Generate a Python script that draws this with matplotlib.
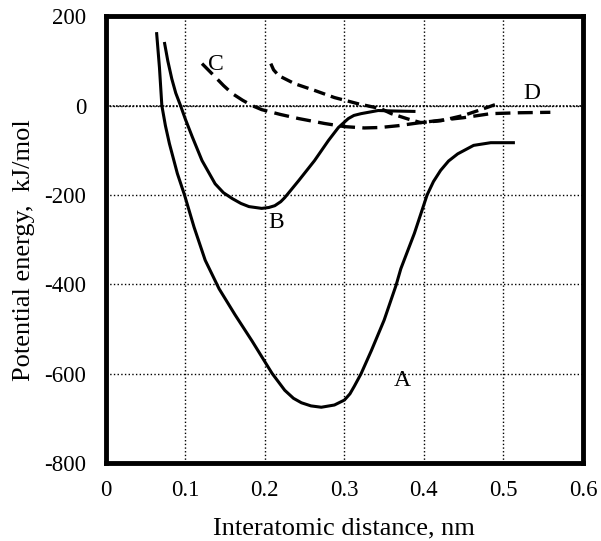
import matplotlib.pyplot as plt

# Curve data (x in nm, y in kJ/mol)
a_x = [0.064, 0.0675, 0.0705, 0.075, 0.08, 0.09, 0.099, 0.111, 0.125, 0.1425, 0.1625,
       0.184, 0.209, 0.225, 0.236, 0.246, 0.258, 0.271, 0.2875, 0.3, 0.307, 0.3125,
       0.321, 0.334, 0.35, 0.365, 0.371, 0.388, 0.404, 0.412, 0.421, 0.431, 0.4425,
       0.4625, 0.484, 0.5125]
a_y = [161, 85, 0, -45, -85, -152, -200, -272, -346, -410, -468,
       -527, -599, -637, -655, -665, -672, -675, -670, -659, -645, -628,
       -600, -548, -480, -402, -365, -286, -200, -170, -145, -124, -108,
       -89, -83, -83]

b_x = [0.074, 0.078, 0.083, 0.088, 0.094, 0.1, 0.109, 0.121, 0.1375, 0.148, 0.159, 0.17,
       0.18, 0.196, 0.205, 0.2125, 0.22, 0.225, 0.2425, 0.2625, 0.28, 0.2925, 0.305,
       0.312, 0.321, 0.3425, 0.36, 0.3875]
b_y = [139, 100, 60, 28, 0, -30, -71, -123, -175, -195, -208, -219,
       -226, -230, -228, -224, -215, -206, -168, -123, -78, -49, -29,
       -22, -18, -11, -12, -13]

c_x = [0.121, 0.136, 0.148, 0.159, 0.172, 0.184, 0.196, 0.22, 0.2425, 0.275, 0.3, 0.325,
       0.345, 0.3675, 0.396, 0.42, 0.45, 0.484, 0.52, 0.559]
c_y = [94, 67, 45, 27, 12, 0, -9, -20, -29, -40, -47, -50,
       -49, -45, -38, -33, -27, -18, -16, -15]

d_x = [0.2075, 0.211, 0.2175, 0.2375, 0.2625, 0.2875, 0.3175, 0.346, 0.359, 0.38, 0.396,
       0.421, 0.45, 0.475, 0.4925]
d_y = [94, 80, 67, 49, 34, 18, 4, -7, -18, -30, -38,
       -34, -22, -7, 4]

x_ticks = [0, 0.1, 0.2, 0.3, 0.4, 0.5, 0.6]
x_tick_labels = ['0', '0.1', '0.2', '0.3', '0.4', '0.5', '0.6']
y_ticks = [200, 0, -200, -400, -600, -800]

plt.rcParams['font.family'] = ['Liberation Serif', 'DejaVu Serif']
plt.rcParams['axes.unicode_minus'] = False

fig = plt.figure(figsize=(6.01, 5.41), dpi=100)
ax = fig.add_axes([0.176, 0.144, 0.794, 0.826])

ax.plot(a_x, a_y, color='black', lw=2.2, solid_joinstyle='round')
ax.plot(b_x, b_y, color='black', lw=2.2, solid_joinstyle='round')
ax.plot(c_x, c_y, color='black', lw=2.4, dashes=(4.5, 2.2))
ax.plot(d_x, d_y, color='black', lw=2.4, dashes=(3.5, 1.8))

ax.text(0.128, 92, 'C', fontsize=17, ha='left', va='center')
ax.text(0.204, -262, 'B', fontsize=17, ha='left', va='center')
ax.text(0.362, -615, 'A', fontsize=17, ha='left', va='center')
ax.text(0.525, 28, 'D', fontsize=17, ha='left', va='center')

ax.set_xlim(0, 0.6)
ax.set_ylim(-800, 200)
ax.set_xticks(x_ticks)
ax.set_xticklabels(x_tick_labels)
ax.set_yticks(y_ticks)
ax.tick_params(length=0, labelsize=16.5)
ax.tick_params(axis='x', pad=12)
ax.tick_params(axis='y', pad=14)
ax.grid(True, color='black', linestyle=':', lw=1.0)
ax.axhline(0, color='black', lw=1.2, ls=(0, (1, 1)))

for s in ax.spines.values():
    s.set_linewidth(3.5)

ax.set_xlabel('Interatomic distance, nm', fontsize=19, labelpad=12)
ax.set_ylabel('Potential energy,  kJ/mol', fontsize=19)
ax.yaxis.set_label_coords(-0.148, 0.477)

fig.savefig('out.png', dpi=100)
